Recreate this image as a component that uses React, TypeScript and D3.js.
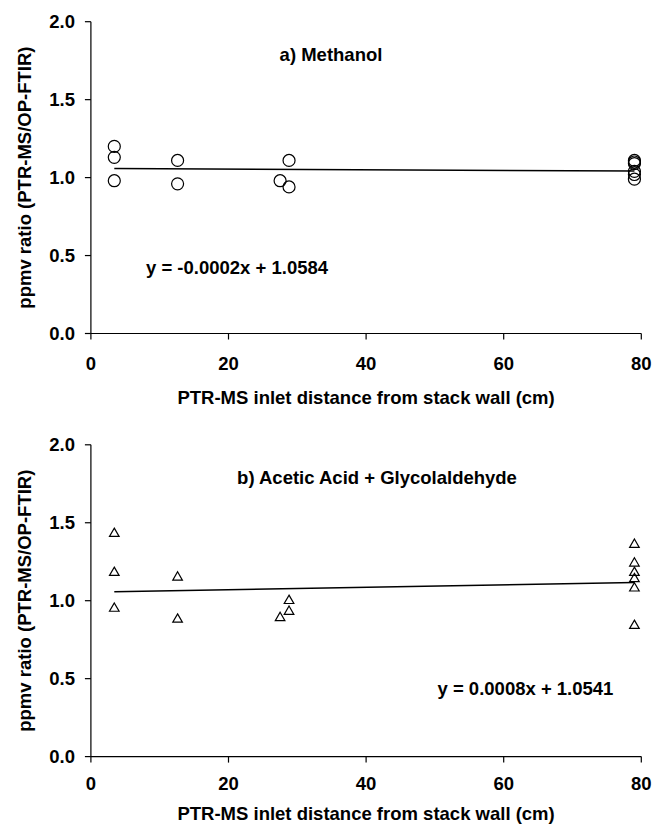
import React from "react";
import * as d3 from "d3";

const W = 652;
const H = 827;

// Data
const xTicks = [0, 20, 40, 60, 80];
const yTicks = [0, 0.5, 1.0, 1.5, 2.0];

const methanolX = [3.4, 3.4, 3.4, 12.6, 12.6, 27.5, 28.8, 28.8, 79, 79, 79, 79, 79, 79];
const methanolY = [1.2, 1.13, 0.98, 1.11, 0.96, 0.98, 1.11, 0.94, 1.11, 1.1, 1.09, 1.04, 1.02, 0.99];

const aceticX = [3.4, 3.4, 3.4, 12.6, 12.6, 27.5, 28.8, 28.8, 79, 79, 79, 79, 79, 79];
const aceticY = [1.43, 1.18, 0.95, 1.15, 0.88, 0.89, 1.0, 0.93, 1.36, 1.24, 1.18, 1.14, 1.08, 0.84];

const fitSlopes = [-0.0002, 0.0008];
const fitIntercepts = [1.0584, 1.0541];
const titles = ["a) Methanol", "b) Acetic Acid + Glycolaldehyde"];
const equations = ["y = -0.0002x + 1.0584", "y = 0.0008x + 1.0541"];
const xLabel = "PTR-MS inlet distance from stack wall (cm)";
const yLabel = "ppmv ratio (PTR-MS/OP-FTIR)";

const FONT = "'Liberation Sans', Arial, Helvetica, sans-serif";
const FS = 18.5;

type PanelProps = {
  xs: number[];
  ys: number[];
  slope: number;
  intercept: number;
  title: string;
  eq: string;
  top: number;
  bottom: number;
  titlePos: [number, number];
  eqPos: [number, number];
  tickLabelY: number;
  xLabelY: number;
  marker: "circle" | "triangle";
};

function Panel(p: PanelProps) {
  const x = d3.scaleLinear().domain([0, 80]).range([90.9, 641.3]);
  const y = d3.scaleLinear().domain([0, 2]).range([p.bottom, p.top]);
  const fmt = d3.format(".1f");
  const xMin = d3.min(p.xs) as number;
  const xMax = d3.max(p.xs) as number;
  const line = d3
    .line<number>()
    .x((d) => x(d))
    .y((d) => y(p.slope * d + p.intercept));
  const tri = d3.symbol().type(d3.symbolTriangle).size(40)();
  return (
    <g>
      {/* axes */}
      <line x1={x(0)} x2={x(0)} y1={y(2)} y2={y(0)} stroke="#000" strokeWidth={1.2} />
      <line x1={x(0)} x2={x(80)} y1={y(0)} y2={y(0)} stroke="#000" strokeWidth={1.2} />
      {yTicks.map((t) => (
        <g key={"y" + t}>
          <line x1={x(0) - 6} x2={x(0)} y1={y(t)} y2={y(t)} stroke="#000" strokeWidth={1.2} />
          <text
            x={75}
            y={y(t)}
            textAnchor="end"
            dominantBaseline="central"
            fontFamily={FONT}
            fontWeight="bold"
            fontSize={FS}
          >
            {fmt(t)}
          </text>
        </g>
      ))}
      {xTicks.map((t) => (
        <g key={"x" + t}>
          <line x1={x(t)} x2={x(t)} y1={y(0)} y2={y(0) + 6} stroke="#000" strokeWidth={1.2} />
          <text
            x={x(t)}
            y={p.tickLabelY}
            textAnchor="middle"
            dominantBaseline="central"
            fontFamily={FONT}
            fontWeight="bold"
            fontSize={FS}
          >
            {t}
          </text>
        </g>
      ))}
      {/* fit line */}
      <path d={line([xMin, xMax]) || ""} stroke="#000" strokeWidth={1.5} fill="none" />
      {/* markers */}
      {p.xs.map((xv, i) =>
        p.marker === "circle" ? (
          <circle
            key={i}
            cx={x(xv)}
            cy={y(p.ys[i])}
            r={6}
            fill="none"
            stroke="#000"
            strokeWidth={1.2}
          />
        ) : (
          <path
            key={i}
            d={tri || ""}
            transform={`translate(${x(xv)},${y(p.ys[i])})`}
            fill="none"
            stroke="#000"
            strokeWidth={1.2}
          />
        )
      )}
      {/* title & equation */}
      <text
        x={p.titlePos[0]}
        y={p.titlePos[1]}
        textAnchor="middle"
        dominantBaseline="central"
        fontFamily={FONT}
        fontWeight="bold"
        fontSize={FS}
      >
        {p.title}
      </text>
      <text
        x={p.eqPos[0]}
        y={p.eqPos[1]}
        textAnchor="start"
        dominantBaseline="central"
        fontFamily={FONT}
        fontWeight="bold"
        fontSize={FS}
      >
        {p.eq}
      </text>
      {/* axis labels */}
      <text
        x={(x(0) + x(80)) / 2}
        y={p.xLabelY}
        textAnchor="middle"
        dominantBaseline="central"
        fontFamily={FONT}
        fontWeight="bold"
        fontSize={FS}
      >
        {xLabel}
      </text>
      <text
        transform={`translate(24,${(y(0) + y(2)) / 2}) rotate(-90)`}
        textAnchor="middle"
        dominantBaseline="central"
        fontFamily={FONT}
        fontWeight="bold"
        fontSize={FS}
      >
        {yLabel}
      </text>
    </g>
  );
}

export default function App() {
  return (
    <svg
      width={W}
      height={H}
      viewBox={`0 0 ${W} ${H}`}
      style={{ position: "absolute", left: 0, top: 0, background: "#fff" }}
    >
      <rect width={W} height={H} fill="#fff" />
      <Panel
        xs={methanolX}
        ys={methanolY}
        slope={fitSlopes[0]}
        intercept={fitIntercepts[0]}
        title={titles[0]}
        eq={equations[0]}
        top={21.7}
        bottom={333.5}
        titlePos={[331, 54]}
        eqPos={[146, 267]}
        tickLabelY={363}
        xLabelY={397}
        marker="circle"
      />
      <Panel
        xs={aceticX}
        ys={aceticY}
        slope={fitSlopes[1]}
        intercept={fitIntercepts[1]}
        title={titles[1]}
        eq={equations[1]}
        top={444.8}
        bottom={756.6}
        titlePos={[377, 477]}
        eqPos={[437.5, 688]}
        tickLabelY={783}
        xLabelY={813}
        marker="triangle"
      />
    </svg>
  );
}
